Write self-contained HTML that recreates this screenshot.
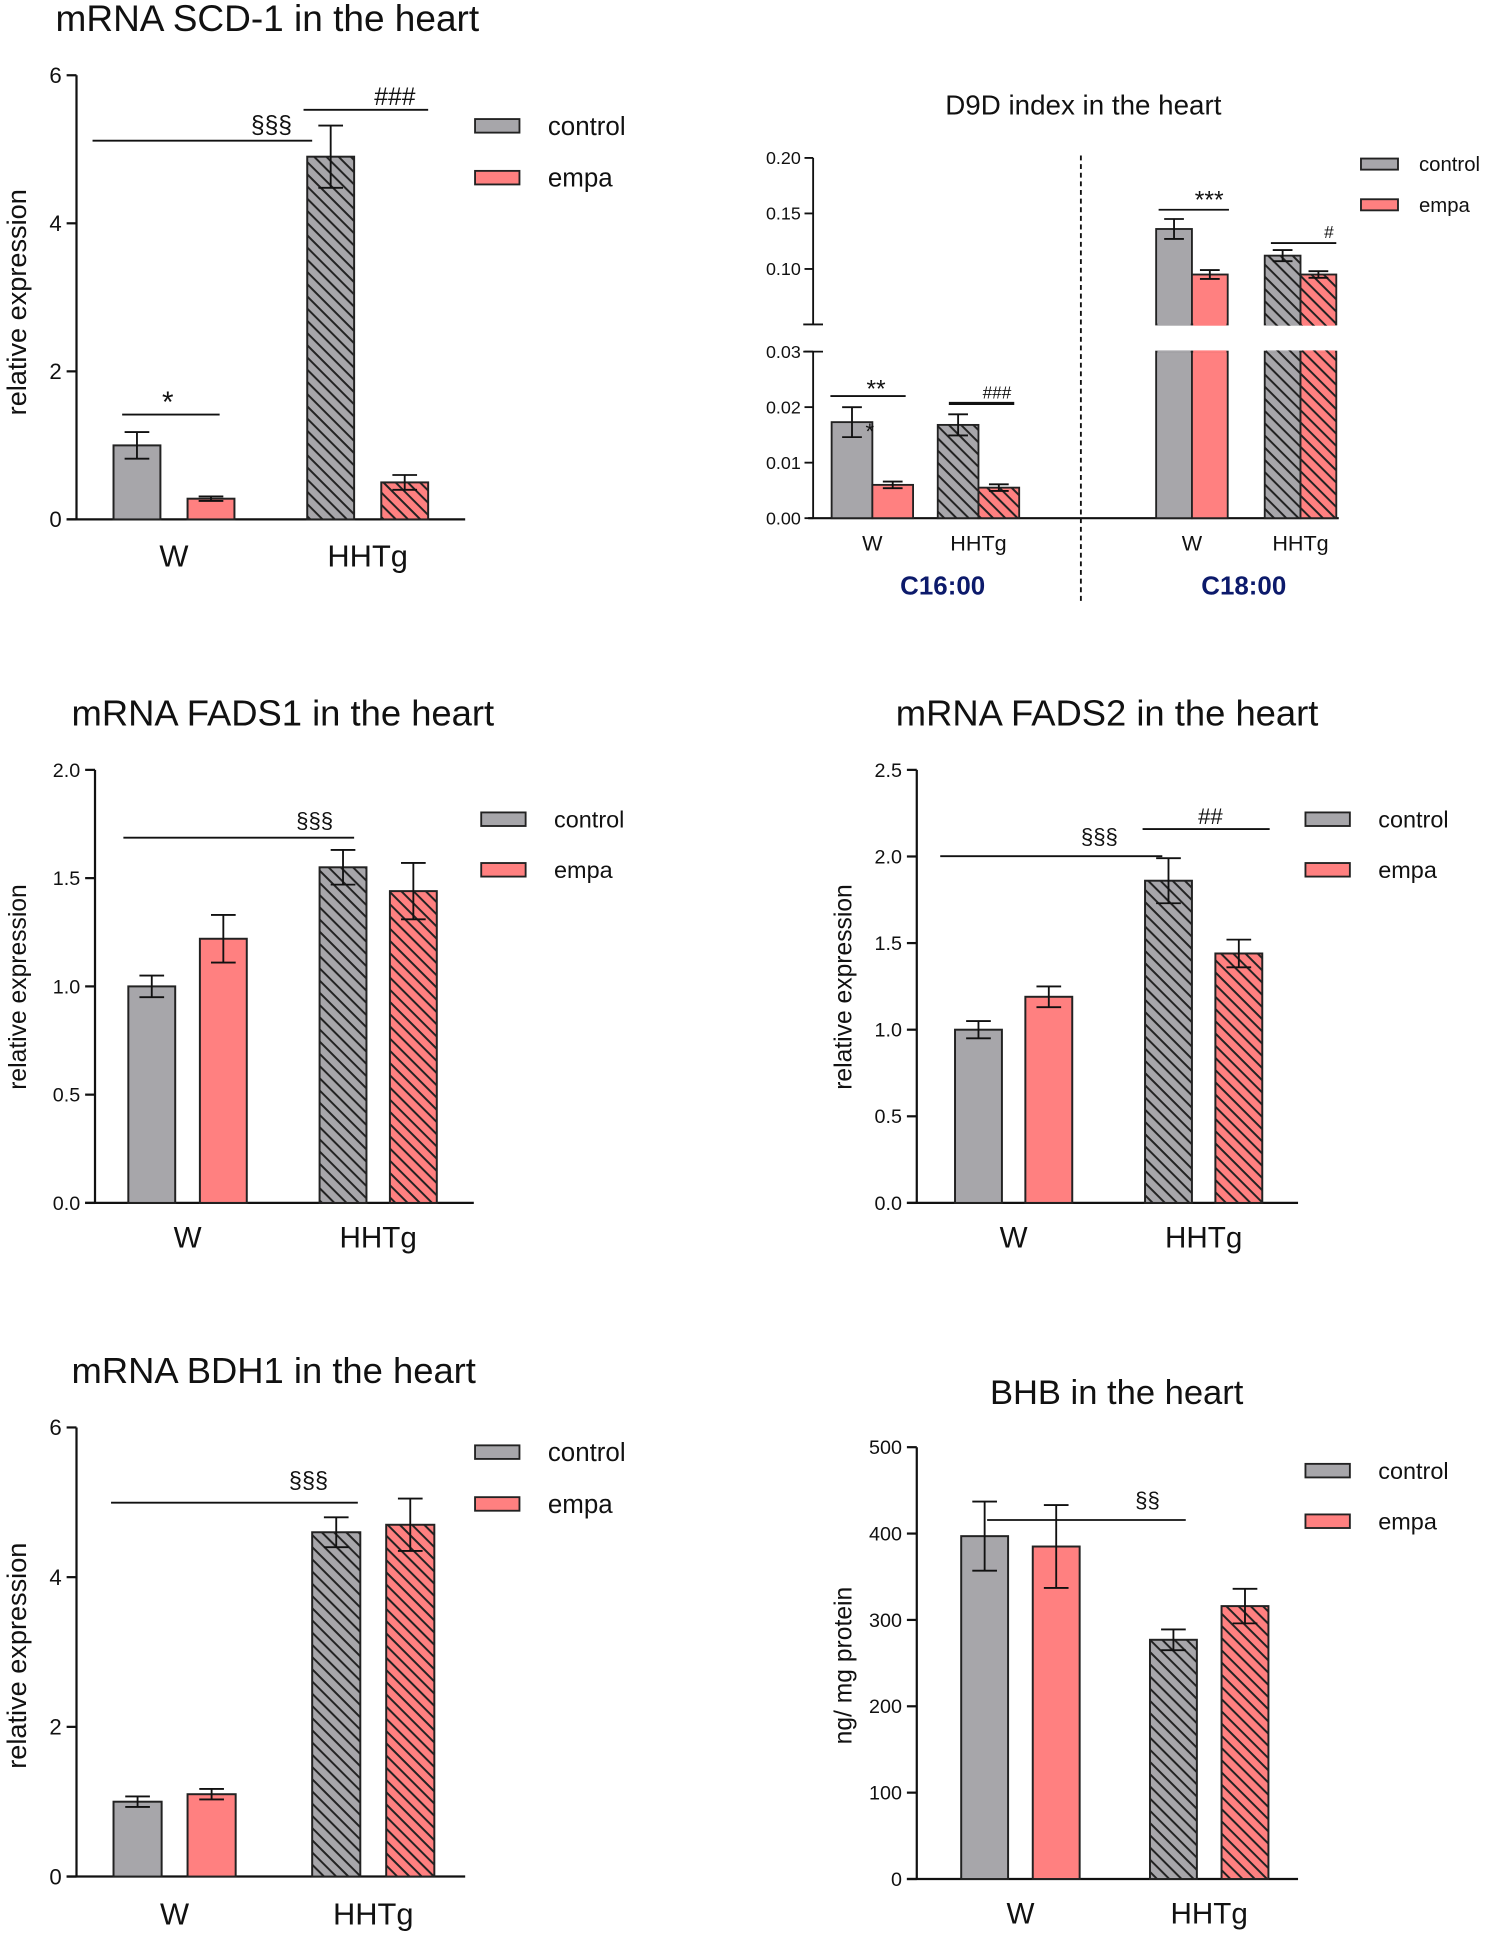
<!DOCTYPE html>
<html><head><meta charset="utf-8"><style>
html,body{margin:0;padding:0;background:#fff}
svg{display:block;font-family:"Liberation Sans",Arial,sans-serif}
</style></head><body>
<svg id="fig" width="1493" height="1937" viewBox="0 0 1210 1570" preserveAspectRatio="none" xmlns="http://www.w3.org/2000/svg">
<defs>
<pattern id="hatchG" patternUnits="userSpaceOnUse" width="7" height="7" patternTransform="rotate(45)"><rect width="7" height="7" fill="#a7a6aa"/><rect x="0" y="0" width="7" height="1.6" fill="#222"/></pattern>
<pattern id="hatchP" patternUnits="userSpaceOnUse" width="7" height="7" patternTransform="rotate(45)"><rect width="7" height="7" fill="#ff8080"/><rect x="0" y="0" width="7" height="1.6" fill="#222"/></pattern>
</defs>
<g id="root"></g>
</svg>
<script>
// ---- data ----
const groups = ["W", "HHTg"];
const scdControl = [1.0, 4.9];
const scdControlErr = [0.18, 0.42];
const scdEmpa = [0.28, 0.5];
const scdEmpaErr = [0.03, 0.1];
const scdTicks = [0, 2, 4, 6];

const fads1Control = [1.0, 1.55];
const fads1ControlErr = [0.05, 0.08];
const fads1Empa = [1.22, 1.44];
const fads1EmpaErr = [0.11, 0.13];
const fads1Ticks = ["0.0", "0.5", "1.0", "1.5", "2.0"];

const fads2Control = [1.0, 1.86];
const fads2ControlErr = [0.05, 0.13];
const fads2Empa = [1.19, 1.44];
const fads2EmpaErr = [0.06, 0.08];
const fads2Ticks = ["0.0", "0.5", "1.0", "1.5", "2.0", "2.5"];

const bdhControl = [1.0, 4.6];
const bdhControlErr = [0.07, 0.2];
const bdhEmpa = [1.1, 4.7];
const bdhEmpaErr = [0.07, 0.35];
const bdhTicks = [0, 2, 4, 6];

const bhbControl = [397, 277];
const bhbControlErr = [40, 12];
const bhbEmpa = [385, 316];
const bhbEmpaErr = [48, 20];
const bhbTicks = [0, 100, 200, 300, 400, 500];

const d9dC16Control = [0.0173, 0.0168];
const d9dC16ControlErr = [0.0027, 0.0019];
const d9dC16Empa = [0.006, 0.0055];
const d9dC16EmpaErr = [0.0006, 0.0006];
const d9dC18Control = [0.136, 0.112];
const d9dC18ControlErr = [0.009, 0.005];
const d9dC18Empa = [0.095, 0.095];
const d9dC18EmpaErr = [0.004, 0.003];
const d9dLowTicks = ["0.00", "0.01", "0.02", "0.03"];
const d9dHighTicks = ["0.10", "0.15", "0.20"];

// ---- helpers ----
const NS = "http://www.w3.org/2000/svg";
const root = document.getElementById("root");
function mk(tag, attrs, parent, text) {
  const e = document.createElementNS(NS, tag);
  for (const k in attrs) e.setAttribute(k, attrs[k]);
  if (text !== undefined) e.textContent = text;
  (parent || root).appendChild(e);
  return e;
}
function line(x1, y1, x2, y2, w, p) { return mk("line", {x1, y1, x2, y2, stroke: "#111", "stroke-width": w || 1.5}, p); }

function errBar(g, cx, yv, ye, cap) {
  const dy = ye - yv;
  const l = line(cx, ye, cx, yv - dy, 1.5, g);
  
  
  const c1 = line(cx - cap, ye, cx + cap, ye, 1.5, g);
  
  
  const c2 = line(cx - cap, yv - dy, cx + cap, yv - dy, 1.5, g);
  
  
}

function legend(g, x, ty, y1, y2, fs, sw, sh) {
  const items = [["control", "#a7a6aa", y1], ["empa", "#ff8080", y2]];
  items.forEach(it => {
    const r = mk("rect", {x: x, y: it[2] - sh / 2, width: sw, height: sh, fill: it[1], stroke: "#222", "stroke-width": 1.5}, g);
    
    
    const t = mk("text", {x: x + sw + ty, y: it[2] + fs * 0.35, "font-size": fs, fill: "#111"}, g, it[0]);
    
    
  });
}

function sig(g, x1, x2, y, label, tx, ty, fs, w) {
  const l = line(x1, y, x2, y, w || 1.5, g);
  
  
  const t = mk("text", {x: tx, y: ty, "font-size": fs, "text-anchor": "middle", fill: "#111"}, g, label);
  
  
}

function panel(cfg) {
  const g = mk("g", {});
  
  
  const tmax = parseFloat(cfg.ticks[cfg.ticks.length - 1]);
  const ys = v => cfg.y0 - (v / tmax) * (cfg.y0 - cfg.yTop);
  const title = mk("text", {x: cfg.titleX, y: cfg.titleY, "font-size": cfg.titleFs, "text-anchor": cfg.titleAnchor || "start", fill: "#111"}, g, cfg.title);
  
  
  const ax = line(cfg.axX, cfg.yTop, cfg.axX, cfg.y0, 1.8, g);
  
  
  const xa = line(cfg.axX - 8, cfg.y0, cfg.axEnd, cfg.y0, 1.8, g);
  
  
  cfg.ticks.forEach(t => {
    const y = ys(parseFloat(t));
    const tk = line(cfg.axX - 8, y, cfg.axX, y, 1.8, g);
    
    
    const tl = mk("text", {x: cfg.axX - 12, y: y + cfg.tickFs * 0.35, "font-size": cfg.tickFs, "text-anchor": "end", fill: "#111"}, g, t);
    
    
  });
  const yl = mk("text", {x: cfg.ylX, y: cfg.ylY, "font-size": cfg.ylFs, "text-anchor": "middle", fill: "#111", transform: `rotate(-90 ${cfg.ylX} ${cfg.ylY})`}, g, cfg.ylabel);
  
  
  groups.forEach((grp, i) => {
    const series = [[cfg.ctrl, cfg.ctrlErr, i ? "url(#hatchG)" : "#a7a6aa", cfg.bx[i][0], "control"], [cfg.empa, cfg.empaErr, i ? "url(#hatchP)" : "#ff8080", cfg.bx[i][1], "empa"]];
    series.forEach(s => {
      const v = s[0][i], e = s[1][i], x = s[3];
      const r = mk("rect", {x: x, y: ys(v), width: cfg.bw, height: cfg.y0 - ys(v), fill: s[2], stroke: "#222", "stroke-width": 1.6}, g);
      
      
      errBar(g, x + cfg.bw / 2, ys(v), ys(v + e), 10);
    });
    const xl = mk("text", {x: (cfg.bx[i][0] + cfg.bx[i][1] + cfg.bw) / 2, y: cfg.xlY, "font-size": cfg.xlFs, "text-anchor": "middle", fill: "#111"}, g, grp);
    
    
  });
  legend(g, cfg.legX, 23, cfg.legY1, cfg.legY2, cfg.legFs, 36, 11);
  cfg.sigs.forEach(s => sig(g, s[0], s[1], s[2], s[3], s[4], s[5], s[6]));
}

panel({name: "scd1-chart", title: "mRNA SCD-1 in the heart", titleX: 45, titleY: 25, titleFs: 30,
  axX: 62, axEnd: 377, y0: 421, yTop: 61, ticks: scdTicks, tickFs: 18,
  ylabel: "relative expression", ylX: 21, ylY: 245, ylFs: 22,
  ctrl: scdControl, ctrlErr: scdControlErr, empa: scdEmpa, empaErr: scdEmpaErr,
  bx: [[92, 152], [249, 309]], bw: 38, xlY: 459, xlFs: 25,
  legX: 385, legY1: 102, legY2: 144, legFs: 21,
  sigs: [[75, 253, 114, "§§§", 220, 108, 20], [246, 347, 89, "###", 320, 85, 20], [99, 178, 336, "*", 136, 334, 24]]});

panel({name: "fads1-chart", title: "mRNA FADS1 in the heart", titleX: 58, titleY: 588, titleFs: 29.5,
  axX: 77, axEnd: 384, y0: 975, yTop: 624, ticks: fads1Ticks, tickFs: 16,
  ylabel: "relative expression", ylX: 21, ylY: 800, ylFs: 20,
  ctrl: fads1Control, ctrlErr: fads1ControlErr, empa: fads1Empa, empaErr: fads1EmpaErr,
  bx: [[104, 162], [259, 316]], bw: 38, xlY: 1011, xlFs: 24,
  legX: 390, legY1: 664, legY2: 705, legFs: 19,
  sigs: [[100, 287, 679, "§§§", 255, 671, 18]]});

panel({name: "fads2-chart", title: "mRNA FADS2 in the heart", titleX: 726, titleY: 588, titleFs: 29.5,
  axX: 743, axEnd: 1052, y0: 975, yTop: 624, ticks: fads2Ticks, tickFs: 16,
  ylabel: "relative expression", ylX: 690, ylY: 800, ylFs: 20,
  ctrl: fads2Control, ctrlErr: fads2ControlErr, empa: fads2Empa, empaErr: fads2EmpaErr,
  bx: [[774, 831], [928, 985]], bw: 38, xlY: 1011, xlFs: 24,
  legX: 1058, legY1: 664, legY2: 705, legFs: 19,
  sigs: [[762, 942, 694, "§§§", 891, 684, 18], [926, 1029, 672, "##", 981, 668, 18]]});

panel({name: "bdh1-chart", title: "mRNA BDH1 in the heart", titleX: 58, titleY: 1121, titleFs: 29.5,
  axX: 62, axEnd: 377, y0: 1521, yTop: 1157, ticks: bdhTicks, tickFs: 18,
  ylabel: "relative expression", ylX: 21, ylY: 1342, ylFs: 22,
  ctrl: bdhControl, ctrlErr: bdhControlErr, empa: bdhEmpa, empaErr: bdhEmpaErr,
  bx: [[92, 152], [253, 313]], bw: 39, xlY: 1560, xlFs: 25,
  legX: 385, legY1: 1177, legY2: 1219, legFs: 21,
  sigs: [[90, 290, 1218, "§§§", 250, 1206, 19]]});

panel({name: "bhb-chart", title: "BHB in the heart", titleX: 905, titleY: 1138, titleFs: 28, titleAnchor: "middle",
  axX: 743, axEnd: 1052, y0: 1523, yTop: 1173, ticks: bhbTicks, tickFs: 16,
  ylabel: "ng/ mg protein", ylX: 690, ylY: 1350, ylFs: 20,
  ctrl: bhbControl, ctrlErr: bhbControlErr, empa: bhbEmpa, empaErr: bhbEmpaErr,
  bx: [[779, 837], [932, 990]], bw: 38, xlY: 1559, xlFs: 24,
  legX: 1058, legY1: 1192, legY2: 1233, legFs: 19,
  sigs: [[800, 961, 1232, "§§", 930, 1222, 18]]});

// ---- D9D broken-axis chart ----
(function () {
  const g = mk("g", {});
  
  
  const AX = 659, Y0 = 420, LOWTOP = 285, HIGHBOT = 263, HIGHTOP = 128;
  const ys = v => v <= 0.03 ? Y0 - v / 0.03 * (Y0 - LOWTOP) : HIGHBOT - (v - 0.05) / 0.15 * (HIGHBOT - HIGHTOP);
  const t = mk("text", {x: 878, y: 93, "font-size": 22.5, "text-anchor": "middle", fill: "#111"}, g, "D9D index in the heart");
  
  
  const a1 = line(AX, HIGHTOP, AX, HIGHBOT, 1.5, g);
  
  
  const a2 = line(AX, LOWTOP, AX, Y0, 1.5, g);
  
  
  const b1 = line(AX - 8, HIGHBOT, AX + 8, HIGHBOT, 1.5, g);
  
  
  const b2 = line(AX - 8, LOWTOP, AX + 8, LOWTOP, 1.5, g);
  
  
  const xa = line(655, Y0, 1085, Y0, 1.8, g);
  
  
  d9dLowTicks.concat(d9dHighTicks).forEach(tk => {
    const y = ys(parseFloat(tk));
    const l = line(AX - 7, y, AX, y, 1.5, g);
    
    
    const tl = mk("text", {x: AX - 10, y: y + 5, "font-size": 14.5, "text-anchor": "end", fill: "#111"}, g, tk);
    
    
  });
  const dl = mk("line", {x1: 876, y1: 126, x2: 876, y2: 487, stroke: "#111", "stroke-width": 1.5, "stroke-dasharray": "4 3"}, g);
  
  
  const sets = [
    [d9dC16Control, d9dC16ControlErr, d9dC16Empa, d9dC16EmpaErr, [674, 760], 33, "c16"],
    [d9dC18Control, d9dC18ControlErr, d9dC18Empa, d9dC18EmpaErr, [937, 1025], 29, "c18"]];
  sets.forEach(s => {
    groups.forEach((grp, i) => {
      [[s[0], s[1], i ? "url(#hatchG)" : "#a7a6aa", 0, "control"], [s[2], s[3], i ? "url(#hatchP)" : "#ff8080", 1, "empa"]].forEach(b => {
        const v = b[0][i], e = b[1][i], x = s[4][i] + b[3] * s[5], w = s[5];
        if (v <= 0.03) {
          const r = mk("rect", {x: x, y: ys(v), width: w, height: Y0 - ys(v), fill: b[2], stroke: "#222", "stroke-width": 1.5}, g);
          
          
          errBar(g, x + w / 2, ys(v), ys(v + e), 8);
        } else {
          const r1 = mk("rect", {x: x, y: LOWTOP, width: w, height: Y0 - LOWTOP, fill: b[2], stroke: "#222", "stroke-width": 1.5}, g);
          
          
          const r2 = mk("rect", {x: x, y: ys(v), width: w, height: HIGHBOT - ys(v), fill: b[2], stroke: "#222", "stroke-width": 1.5}, g);
          
          
          const cover = mk("rect", {x: x + 1, y: HIGHBOT - 0.8, width: w - 2, height: 1.8, fill: b[2]}, g);
          
          
          const cover2 = mk("rect", {x: x + 1, y: LOWTOP - 1, width: w - 2, height: 1.8, fill: b[2]}, g);
          
          
          errBar(g, x + w / 2, ys(v), ys(v + e), 8);
        }
      });
      const xl = mk("text", {x: s[4][i] + s[5], y: 446, "font-size": 17.5, "text-anchor": "middle", fill: "#111"}, g, grp);
      
      
    });
  });
  [["C16:00", 764], ["C18:00", 1008]].forEach(c => {
    const tt = mk("text", {x: c[1], y: 482, "font-size": 21, "font-weight": "bold", "text-anchor": "middle", fill: "#0c1a6b"}, g, c[0]);
    
    
  });
  legend(g, 1103, 17, 133, 166, 16.5, 30, 9);
  sig(g, 673, 734, 321, "**", 710, 322, 20);
  const st = mk("text", {x: 705, y: 356, "font-size": 18, "text-anchor": "middle", fill: "#111"}, g, "*");
  
  
  sig(g, 769, 822, 327, "###", 808, 323, 14, 2.5);
  sig(g, 939, 996, 170, "***", 980, 169, 20);
  sig(g, 1030, 1083, 197, "#", 1077, 193, 14);
})();
</script>
</body></html>
